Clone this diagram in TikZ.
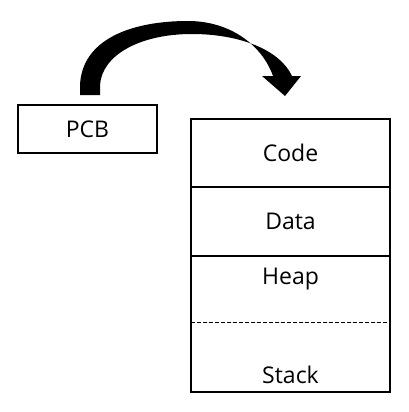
\documentclass[tikz,border=0pt]{standalone}
\usepackage{fontspec}
\setmainfont{Open Sans}
\usetikzlibrary{positioning}
\begin{document}
\begin{tikzpicture}[x=1pt,y=-1pt,node distance=0pt,
  font=\fontsize{23}{27}\selectfont,
  box/.style={draw,line width=1.2pt,inner sep=0pt,outer sep=0pt},
  seg/.style={box,minimum width=199pt}]
\useasboundingbox (0,0) rectangle (408,412);
\node[box,minimum width=139pt,minimum height=48pt] (pcb) at (87.5,129) {PCB};
\node[seg,minimum height=68pt,anchor=north west] (code) at (191,119) {Code};
\node[seg,minimum height=69pt,below=of code] (data) {Data};
\node[seg,minimum height=136pt,below=of data] (free) {};
\node[below=9pt of free.north] (heap) {Heap};
\node[above=5pt of free.south] (stack) {Stack};
\draw[line width=0.8pt,dash pattern=on 4pt off 2pt] (free.west) ++(0,-1.5) coordinate (gl) -- (gl -| free.east);
\fill (80,95) -- (80,85) .. controls (82,40) and (130,21) .. (188,21)
  .. controls (230,21) and (262,45) .. (273,76) -- (262,76) -- (285,96) -- (301,76) -- (292,76)
  .. controls (280,50) and (240,34) .. (192,34) .. controls (140,34) and (102,55) .. (100,85) -- (100,95) -- cycle;
\end{tikzpicture}
\end{document}
